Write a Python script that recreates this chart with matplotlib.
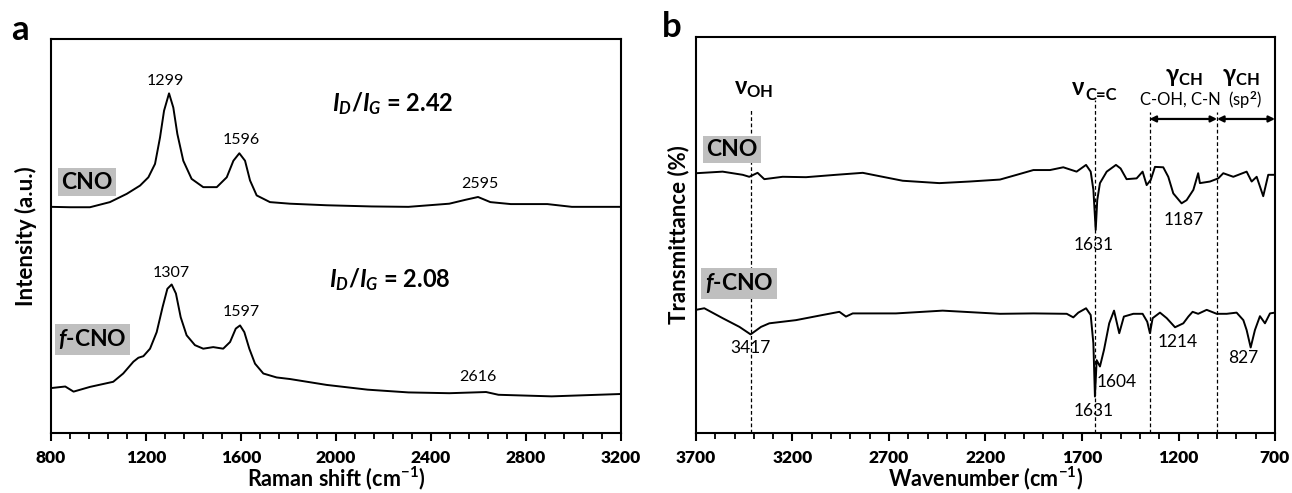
import matplotlib
matplotlib.use('Agg')
import matplotlib.pyplot as plt
from matplotlib.ticker import MultipleLocator

plt.rcParams['font.family'] = ['Lato', 'DejaVu Sans']
plt.rcParams['font.weight'] = 'bold'
plt.rcParams['axes.labelweight'] = 'bold'
plt.rcParams['mathtext.fontset'] = 'custom'
plt.rcParams['mathtext.rm'] = 'Lato'
plt.rcParams['mathtext.bf'] = 'Lato:bold'
plt.rcParams['mathtext.it'] = 'Lato:italic:bold'
plt.rcParams['mathtext.fallback'] = 'stixsans'

# ---- Raman (panel a), intensity in arbitrary units ----
raman_shift = [800, 880, 964, 1048, 1119, 1175, 1210, 1238, 1259, 1276, 1297, 1315,
               1332, 1357, 1392, 1441, 1498, 1540, 1568, 1593, 1617, 1638, 1666, 1722,
               1806, 1961, 2150, 2305, 2477, 2546, 2598, 2650, 2736, 2890, 2993, 3200]
raman_cno = [57.4, 57.3, 57.3, 58.6, 60.7, 62.8, 64.9, 68.3, 75.0, 81.8, 86.2, 82.6,
             75.9, 69.1, 64.5, 62.4, 62.4, 64.9, 69.1, 71.0, 69.1, 64.1, 60.3, 58.6,
             58.2, 57.8, 57.5, 57.4, 58.2, 59.2, 59.9, 58.6, 58.1, 58.1, 57.4, 57.4]

raman_shift_f = [800, 860, 895, 964, 1062, 1104, 1147, 1168, 1189, 1217, 1245, 1270,
                 1290, 1308, 1326, 1346, 1371, 1406, 1441, 1483, 1525, 1554, 1578, 1596,
                 1614, 1635, 1659, 1694, 1750, 1806, 1961, 2133, 2305, 2477, 2581, 2632,
                 2684, 2908, 3200]
raman_fcno = [11.4, 11.8, 10.5, 11.7, 13.0, 15.1, 18.1, 19.1, 19.5, 21.4, 25.6, 32.0,
              36.6, 37.7, 35.4, 29.4, 24.8, 22.3, 21.4, 21.8, 21.4, 23.1, 26.5, 27.3,
              25.6, 21.4, 17.6, 15.1, 14.1, 13.7, 12.2, 11.0, 10.3, 10.1, 10.3, 10.4,
              9.7, 9.3, 9.9]

raman_ticks = [800, 1200, 1600, 2000, 2400, 2800, 3200]
raman_peaks_cno = [(1280, 89.3, '1299'), (1600, 74.3, '1596'), (2606, 63.3, '2595')]
raman_peaks_fcno = [(1307, 40.7, '1307'), (1600, 30.8, '1597'), (2598, 14.3, '2616')]
ratio_cno = '2.42'
ratio_fcno = '2.08'

# ---- FTIR (panel b), transmittance in arbitrary units ----
wn_cno = [3700, 3562, 3458, 3424, 3381, 3346, 3251, 3130, 2975, 2836, 2733, 2629,
          2439, 2284, 2125, 2038, 1952, 1866, 1797, 1728, 1679, 1655, 1641, 1629,
          1621, 1607, 1572, 1524, 1500, 1469, 1417, 1386, 1365, 1344, 1322, 1279,
          1253, 1227, 1184, 1158, 1123, 1098, 1089, 1037, 994, 968, 916, 847, 821,
          795, 761, 735, 700]
ir_cno = [65.6, 66.0, 65.2, 64.7, 65.7, 64.1, 64.7, 64.6, 65.2, 65.7, 64.7, 63.7,
          63.1, 63.5, 64.0, 65.2, 66.4, 66.4, 67.1, 66.0, 67.7, 66.0, 61.4, 51.3,
          58.8, 63.1, 66.0, 67.7, 66.8, 64.1, 64.3, 66.0, 62.6, 63.9, 67.2, 67.1,
          64.7, 60.5, 58.0, 58.8, 61.4, 65.6, 63.1, 63.5, 64.3, 65.6, 64.7, 66.0, 63.5,
          64.7, 59.8, 65.2, 65.2]

wn_fcno = [3700, 3657, 3562, 3475, 3417, 3363, 3320, 3182, 3044, 2957, 2923, 2888,
           2664, 2422, 2125, 1952, 1779, 1745, 1719, 1679, 1655, 1641, 1633, 1624,
           1607, 1586, 1559, 1534, 1507, 1483, 1434, 1386, 1362, 1348, 1334, 1296,
           1261, 1218, 1175, 1149, 1127, 1098, 1054, 1002, 950, 899, 864, 847, 826,
           804, 778, 752, 726, 700]
ir_fcno = [31.1, 31.5, 29.0, 26.8, 24.9, 26.8, 27.7, 28.5, 29.8, 30.6, 29.4, 30.2,
           30.2, 30.9, 30.1, 30.2, 30.1, 29.2, 30.4, 31.5, 29.8, 22.6, 9.2, 18.4,
           16.8, 21.0, 27.7, 30.9, 25.2, 29.4, 30.1, 30.1, 28.1, 25.2, 29.0, 30.4,
           29.0, 26.7, 27.7, 29.4, 30.6, 30.1, 31.1, 30.1, 30.1, 30.4, 28.5, 26.0, 21.6,
           26.0, 29.5, 27.7, 30.2, 30.4]

ir_ticks = [3700, 3200, 2700, 2200, 1700, 1200, 700]
ir_peaks = [(1638, 47.5, '1631'), (1171, 53.8, '1187'), (3420, 21.4, '3417'),
            (1521, 13.0, '1604'), (1638, 5.5, '1631'), (1203, 23.1, '1214'),
            (863, 18.9, '827')]
band_lines = [(3417, 82.0), (1631, 84.0), (1350, 81.0), (1000, 81.0)]

box = dict(boxstyle='square,pad=0.15', facecolor='#bfbfbf', edgecolor='none')

fig = plt.figure(figsize=(12.92, 4.93), dpi=100)
ax1 = fig.add_axes([51 / 1292, 60 / 493, 570 / 1292, 394 / 493])
ax2 = fig.add_axes([696 / 1292, 60 / 493, 579 / 1292, 396 / 493])

for ax in (ax1, ax2):
    for s in ax.spines.values():
        s.set_linewidth(1.5)
    ax.set_yticks([])
    ax.set_ylim(0, 100)

# panel a
ax1.plot(raman_shift, raman_cno, color='black', lw=1.4)
ax1.plot(raman_shift_f, raman_fcno, color='black', lw=1.4)
ax1.set_xlim(800, 3200)
ax1.set_xticks(raman_ticks)
ax1.set_xticklabels([str(t) for t in raman_ticks], fontweight='heavy')
ax1.xaxis.set_minor_locator(MultipleLocator(80))
for x, y, t in raman_peaks_cno + raman_peaks_fcno:
    ax1.text(x, y, t, ha='center', va='center', fontsize=11.5, fontweight='normal')
ax1.text(2240, 83.5, r'$I_D/I_G$ = ' + ratio_cno, ha='center', va='center', fontsize=17)
ax1.text(2228, 39.0, r'$I_D/I_G$ = ' + ratio_fcno, ha='center', va='center', fontsize=17)
ax1.text(950, 63.7, 'CNO', ha='center', va='center', fontsize=16.5, bbox=box)
ax1.text(974, 23.8, r'$f$-CNO', ha='center', va='center', fontsize=16.5, bbox=box)
ax1.set_xlabel(r'Raman shift (cm$^{\mathbf{-1}}$)', fontsize=15.5, labelpad=-1)
ax1.set_ylabel('Intensity (a.u.)', fontsize=16, labelpad=10)

# panel b
ax2.plot(wn_cno, ir_cno, color='black', lw=1.4)
ax2.plot(wn_fcno, ir_fcno, color='black', lw=1.4)
ax2.set_xlim(3700, 700)
ax2.set_xticks(ir_ticks)
ax2.set_xticklabels([str(t) for t in ir_ticks], fontweight='heavy')
ax2.xaxis.set_minor_locator(MultipleLocator(100))
for x, top in band_lines:
    ax2.plot([x, x], [0, top], color='black', lw=0.9, ls=(0, (3, 2)))
for x, y, t in ir_peaks:
    ax2.text(x, y, t, ha='center', va='center', fontsize=12.5, fontweight='normal')
ax2.text(3400, 87.0, r'$\mathbf{\nu}_{\mathbf{OH}}$', ha='center', va='center', fontsize=17)
ax2.text(1685, 85.4, r'$\mathbf{\nu}$', ha='right', va='baseline', fontsize=17)
ax2.annotate('C=C', xy=(1685, 85.4), xytext=(0.5, -4), textcoords='offset points',
             ha='left', va='baseline', fontsize=12)
ax2.text(1172, 89.9, r'$\mathbf{\gamma}_{\mathbf{CH}}$', ha='center', va='center', fontsize=17)
ax2.text(876, 89.9, r'$\mathbf{\gamma}_{\mathbf{CH}}$', ha='center', va='center', fontsize=17)
ax2.text(1190, 84.1, 'C-OH, C-N', ha='center', va='center', fontsize=12, fontweight='normal')
ax2.text(855, 84.1, r'(sp$^{\mathrm{2}}$)', ha='center', va='center', fontsize=12,
         fontweight='normal')
arrow = dict(arrowstyle='<|-|>', color='black', lw=1.6, mutation_scale=9,
             shrinkA=0, shrinkB=0)
ax2.annotate('', xy=(1000, 79.3), xytext=(1350, 79.3), arrowprops=arrow)
ax2.annotate('', xy=(700, 79.3), xytext=(1000, 79.3), arrowprops=arrow)
ax2.text(3515, 71.6, 'CNO', ha='center', va='center', fontsize=16.5, bbox=box)
ax2.text(3477, 37.8, r'$f$-CNO', ha='center', va='center', fontsize=16.5, bbox=box)
ax2.set_xlabel(r'Wavenumber (cm$^{\mathbf{-1}}$)', fontsize=15.5, labelpad=-1)
ax2.set_ylabel('Transmittance (%)', fontsize=16, labelpad=5)

for ax in (ax1, ax2):
    ax.tick_params(axis='x', which='major', direction='out', length=6, width=1.5,
                   labelsize=12.5, pad=6)
    ax.tick_params(axis='x', which='minor', direction='out', length=4.5, width=1.3)

fig.text(20 / 1292, 1 - 30 / 493, 'a', fontsize=25, ha='center', va='center')
fig.text(672 / 1292, 1 - 27 / 493, 'b', fontsize=25, ha='center', va='center')

fig.savefig('out.png', dpi=100)
